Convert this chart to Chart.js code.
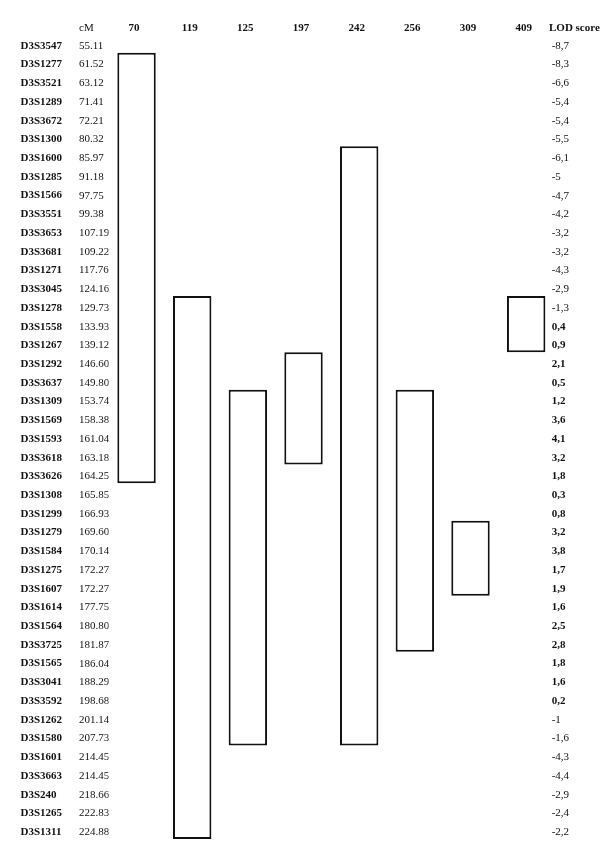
<!DOCTYPE html>
<html lang="en">
<head>
    <meta charset="UTF-8">
    <title>D3S haplotype blocks</title>
    <style>
        body {
            margin: 0;
            background: #ffffff;
        }
        .box {
            position: relative;
            width: 600px;
            height: 859px;
        }
    </style>
</head>
<body>
    <div class="box">
        <canvas id="grafico"></canvas>
    </div>

    <script src="https://cdn.jsdelivr.net/npm/chart.js"></script>
    <script>
        // markers, top to bottom
        const markers = ['D3S3547', 'D3S1277', 'D3S3521', 'D3S1289', 'D3S3672', 'D3S1300', 'D3S1600',
            'D3S1285', 'D3S1566', 'D3S3551', 'D3S3653', 'D3S3681', 'D3S1271', 'D3S3045', 'D3S1278',
            'D3S1558', 'D3S1267', 'D3S1292', 'D3S3637', 'D3S1309', 'D3S1569', 'D3S1593', 'D3S3618',
            'D3S3626', 'D3S1308', 'D3S1299', 'D3S1279', 'D3S1584', 'D3S1275', 'D3S1607', 'D3S1614',
            'D3S1564', 'D3S3725', 'D3S1565', 'D3S3041', 'D3S3592', 'D3S1262', 'D3S1580', 'D3S1601',
            'D3S3663', 'D3S240', 'D3S1265', 'D3S1311'];
        const cM = [55.11, 61.52, 63.12, 71.41, 72.21, 80.32, 85.97, 91.18, 97.75, 99.38, 107.19,
            109.22, 117.76, 124.16, 129.73, 133.93, 139.12, 146.60, 149.80, 153.74, 158.38, 161.04,
            163.18, 164.25, 165.85, 166.93, 169.60, 170.14, 172.27, 172.27, 177.75, 180.80, 181.87,
            186.04, 188.29, 198.68, 201.14, 207.73, 214.45, 214.45, 218.66, 222.83, 224.88];
        const lodScores = [-8.7, -8.3, -6.6, -5.4, -5.4, -5.5, -6.1, -5, -4.7, -4.2, -3.2, -3.2,
            -4.3, -2.9, -1.3, 0.4, 0.9, 2.1, 0.5, 1.2, 3.6, 4.1, 3.2, 1.8, 0.3, 0.8, 3.2, 3.8, 1.7,
            1.9, 1.6, 2.5, 2.8, 1.8, 1.6, 0.2, -1, -1.6, -4.3, -4.4, -2.9, -2.4, -2.2];

        // families and the shared segment of each (first and last marker)
        const families = ['70', '119', '125', '197', '242', '256', '309', '409'];
        const blockFrom = ['D3S1277', 'D3S1278', 'D3S1309', 'D3S1292', 'D3S1600', 'D3S1309', 'D3S1279', 'D3S1278'];
        const blockTo = ['D3S3626', 'D3S1311', 'D3S1580', 'D3S3618', 'D3S1580', 'D3S3725', 'D3S1607', 'D3S1267'];

        const serif = "'Liberation Serif', 'Times New Roman', serif";
        const ink = '#111111';

        const blocks = families.map((f, i) => [
            markers.indexOf(blockFrom[i]) - 0.5,
            markers.indexOf(blockTo[i]) + 0.5
        ]);

        function rowTicks(scale) {
            scale.ticks = markers.map((m, i) => ({ value: i }));
        }

        function rowAxis(extra) {
            return Object.assign({
                type: 'linear',
                reverse: true,
                min: -0.5,
                max: markers.length - 0.5,
                grid: { display: false, drawTicks: false },
                border: { display: false },
                afterBuildTicks: rowTicks
            }, extra);
        }

        // headers "cM" and "LOD score" sit on the family row
        const headers = {
            id: 'headers',
            afterDraw(chart) {
                const ctx = chart.ctx;
                const yHead = chart.scales.x.bottom - 5.5;
                ctx.save();
                ctx.fillStyle = ink;
                ctx.textBaseline = 'middle';
                ctx.textAlign = 'left';
                ctx.font = '11px ' + serif;
                ctx.fillText('cM', chart.scales.yCM.left, yHead);
                ctx.font = 'bold 11px ' + serif;
                ctx.fillText('LOD score', chart.scales.yLod.left - 5, yHead);
                ctx.restore();
            }
        };

        new Chart(document.getElementById('grafico'), {
            type: 'bar',
            data: {
                labels: families,
                datasets: [{
                    data: blocks,
                    backgroundColor: '#ffffff',
                    borderColor: ink,
                    borderWidth: 2,
                    borderSkipped: false,
                    categoryPercentage: 1,
                    barPercentage: 0.69
                }]
            },
            options: {
                responsive: true,
                maintainAspectRatio: false,
                animation: false,
                layout: { padding: { top: 23, left: 20.5, right: 0, bottom: 20 } },
                plugins: {
                    legend: { display: false },
                    tooltip: { enabled: false }
                },
                scales: {
                    x: {
                        position: 'top',
                        grid: { display: false, drawTicks: false },
                        border: { display: false },
                        ticks: {
                            color: ink,
                            padding: 0,
                            labelOffset: -2.5,
                            font: { family: serif, size: 11, weight: 'bold', lineHeight: 1 }
                        },
                        afterFit(s) { s.height = 11; }
                    },
                    y: rowAxis({
                        position: 'left',
                        weight: 2,
                        ticks: {
                            color: ink,
                            autoSkip: false,
                            crossAlign: 'far',
                            labelOffset: 2.5,
                            font: { family: serif, size: 11, weight: 'bold' },
                            callback: (v) => markers[v]
                        },
                        afterFit(s) { s.width = 58.5; }
                    }),
                    yCM: rowAxis({
                        position: 'left',
                        weight: 1,
                        ticks: {
                            color: ink,
                            autoSkip: false,
                            crossAlign: 'far',
                            labelOffset: 2.5,
                            font: { family: serif, size: 11 },
                            callback: (v) => cM[v].toFixed(2)
                        },
                        afterFit(s) { s.width = 29.7; }
                    }),
                    yLod: rowAxis({
                        position: 'right',
                        ticks: {
                            color: ink,
                            autoSkip: false,
                            padding: -2.3,
                            labelOffset: 2.5,
                            font: (c) => ({
                                family: serif,
                                size: 11,
                                weight: lodScores[c.index] > 0 ? 'bold' : 'normal'
                            }),
                            callback: (v) => String(lodScores[v]).replace('.', ',')
                        },
                        afterFit(s) {
                            s.width = 46;
                            // labels start a little left of the axis box, so don't clip them to it
                            s._computeLabelArea = () => ({ top: 0, left: 0, bottom: s.chart.height, right: s.chart.width });
                        }
                    })
                }
            },
            plugins: [headers]
        });
    </script>
</body>
</html>
